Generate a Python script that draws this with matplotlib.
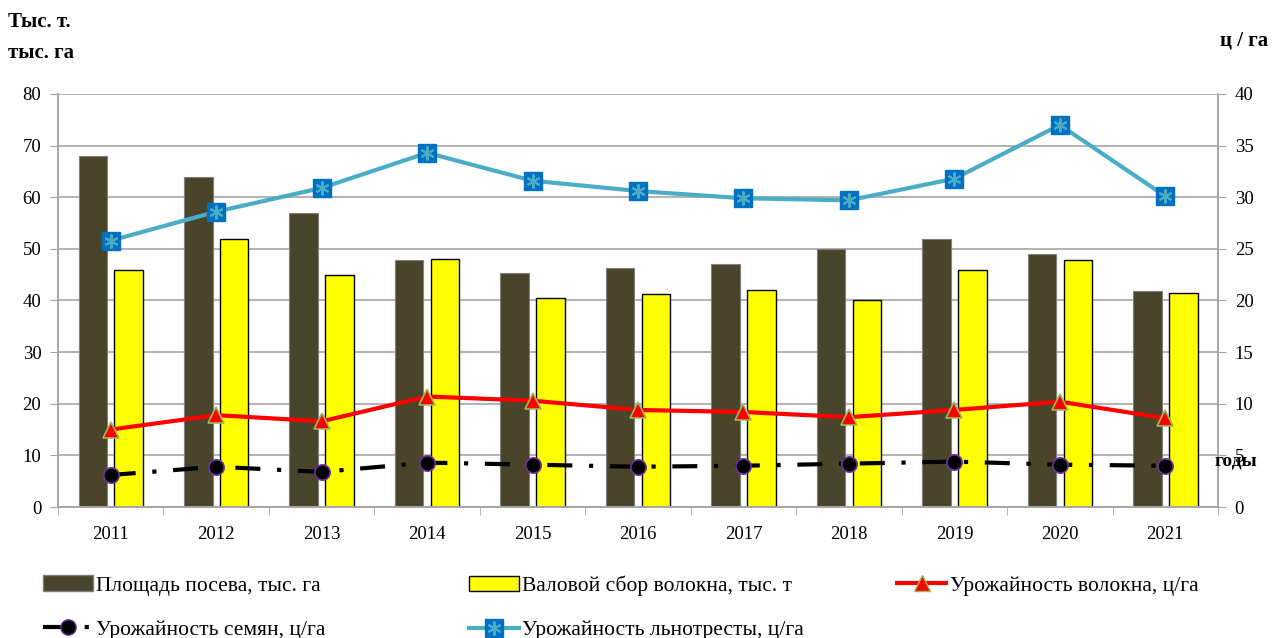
import numpy as np
import matplotlib.pyplot as plt
from matplotlib.legend_handler import HandlerTuple
from matplotlib.lines import Line2D
from matplotlib.patches import Patch

plt.rcParams['font.family'] = ['Liberation Serif', 'DejaVu Serif']

years = ['2011', '2012', '2013', '2014', '2015', '2016', '2017', '2018', '2019', '2020', '2021']
area = [68.0, 64.0, 57.0, 47.8, 45.3, 46.3, 47.0, 50.0, 52.0, 49.0, 41.8]
fiber_gross = [46.0, 52.0, 45.0, 48.0, 40.4, 41.2, 42.0, 40.0, 46.0, 47.8, 41.4]
fiber_yield = [7.5, 8.9, 8.3, 10.7, 10.3, 9.4, 9.2, 8.7, 9.4, 10.2, 8.6]
seed_yield = [3.1, 3.9, 3.4, 4.3, 4.1, 3.9, 4.0, 4.2, 4.4, 4.1, 4.0]
straw_yield = [25.8, 28.6, 30.9, 34.3, 31.6, 30.6, 29.9, 29.7, 31.8, 37.0, 30.1]

x = np.arange(len(years))
grey = '#a6a6a6'
seed_dash = (0, (6, 4, 1, 4))

fig = plt.figure(figsize=(12.72, 6.38), dpi=100)
ax = fig.add_axes([0.0456, 0.2053, 0.912, 0.6474])
ax2 = ax.twinx()

ax.bar(x - 0.17, area, 0.27, color='#4a442a', edgecolor='#7f7f7f', linewidth=0.8, zorder=2)
ax.bar(x + 0.17, fiber_gross, 0.27, color='#ffff00', edgecolor='black', linewidth=1.0, zorder=2)

ax.set_xlim(-0.5, len(years) - 0.5)
ax.set_ylim(0, 80)
ax.set_yticks(range(0, 81, 10))
ax.grid(axis='y', color=grey, linewidth=1.2, zorder=0)
ax.set_axisbelow(True)
ax.set_xticks(x)
ax.set_xticklabels(years, fontsize=13.5)
ax.set_xticks(np.arange(-0.5, len(years)), minor=True)
ax.tick_params(axis='x', which='major', length=0, pad=14)
ax.tick_params(axis='x', which='minor', length=6, color=grey, direction='out')
ax.tick_params(axis='y', labelsize=13.5, length=6, color=grey, pad=6)

ax2.set_ylim(0, 40)
ax2.set_yticks(range(0, 41, 5))
ax2.tick_params(axis='y', labelsize=13.5, length=6, color=grey, pad=6)

for a in (ax, ax2):
    a.spines['top'].set_visible(False)
    for s in ('left', 'right', 'bottom'):
        a.spines[s].set_color(grey)
        a.spines[s].set_linewidth(1.2)

ax2.plot(x, fiber_yield, color='#ff0000', linewidth=3, marker='^', markersize=12,
         markerfacecolor='#ff0000', markeredgecolor='#9bbb59', markeredgewidth=1.2, zorder=3)
ax2.plot(x, seed_yield, color='black', linewidth=3, linestyle=seed_dash,
         marker='o', markersize=11, markerfacecolor='black', markeredgecolor='#7030a0',
         markeredgewidth=1.2, zorder=3)
ax2.plot(x, straw_yield, color='#4bacc6', linewidth=3, marker='s', markersize=13,
         markerfacecolor='#0070c0', markeredgecolor='#0070c0', zorder=3)
ax2.plot(x, straw_yield, linestyle='none', marker=(6, 2, 0), markersize=10,
         markeredgecolor='#4bacc6', markeredgewidth=1.5, zorder=4)

fig.text(0.006, 0.965, 'Тыс. т.', fontsize=15, fontweight='bold', va='center')
fig.text(0.006, 0.917, 'тыс. га', fontsize=15, fontweight='bold', va='center')
fig.text(0.997, 0.937, 'ц / га', fontsize=15, fontweight='bold', va='center', ha='right')
fig.text(0.955, 0.277, 'годы', fontsize=14, fontweight='bold', va='center')

h_area = Patch(facecolor='#4a442a', edgecolor='#7f7f7f')
h_gross = Patch(facecolor='#ffff00', edgecolor='black')
h_fiber = Line2D([], [], color='#ff0000', linewidth=3, marker='^', markersize=12,
                 markerfacecolor='#ff0000', markeredgecolor='#9bbb59')
h_seed = Line2D([], [], color='black', linewidth=3, linestyle=seed_dash, marker='o',
                markersize=11, markerfacecolor='black', markeredgecolor='#7030a0')
h_straw_l = Line2D([], [], color='#4bacc6', linewidth=3, marker='s', markersize=13,
                   markerfacecolor='#0070c0', markeredgecolor='#0070c0')
h_straw_m = Line2D([], [], linestyle='none', marker=(6, 2, 0), markersize=10,
                   markeredgecolor='#4bacc6', markeredgewidth=1.5)
blank = Line2D([], [], alpha=0)

# three legend columns at fixed positions below the plot
columns = [
    (0.034, [h_area, h_seed], ['Площадь посева, тыс. га', 'Урожайность семян, ц/га']),
    (0.369, [h_gross, (h_straw_l, h_straw_m)],
     ['Валовой сбор волокна, тыс. т', 'Урожайность льнотресты, ц/га']),
    (0.705, [h_fiber, blank], ['Урожайность волокна, ц/га', '']),
]
for x0, handles, labels in columns:
    fig.legend(handles, labels, loc='upper left', bbox_to_anchor=(x0, 0.098),
               bbox_transform=fig.transFigure,
               handler_map={tuple: HandlerTuple(ndivide=1, pad=0)},
               frameon=False, fontsize=15.5, handlelength=2.3, handletextpad=0.15,
               labelspacing=1.13, borderpad=0, borderaxespad=0)

fig.savefig('out.png', dpi=100)
